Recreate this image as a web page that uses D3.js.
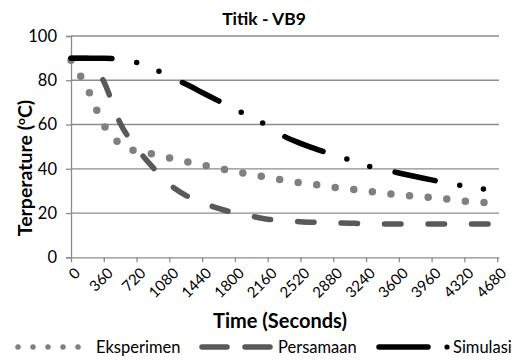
<!DOCTYPE html>
<html>
<head>
<meta charset="utf-8">
<script src="https://cdnjs.cloudflare.com/ajax/libs/d3/7.8.5/d3.min.js"></script>
<style>
  body { margin: 0; background: #fff; }
  svg { display: block; font-family: Lato, "Liberation Sans", sans-serif; }
</style>
</head>
<body>
<div class="chart"></div>
<script>
// time in seconds (every 180 s)
const times = [0, 180, 360, 540, 720, 900, 1080, 1260, 1440, 1620, 1800, 1980, 2160, 2340,
  2520, 2700, 2880, 3060, 3240, 3420, 3600, 3780, 3960, 4140, 4320, 4500, 4680];

const eksperimen = [89, 76.3, 59.8, 51.2, 47.9, 46.6, 44.9, 43.3, 41.8, 40.2, 38.8, 37.4, 36.1, 34.8,
  33.7, 32.8, 31.6, 30.8, 30.0, 29.0, 28.3, 27.6, 27.0, 26.3, 25.4, 24.9, 24.4];

const persamaan = [90, 89.9, 79.4, 60.6, 49.5, 40.6, 33.0, 28.0, 24.6, 22.1, 20.0, 18.6, 17.2, 16.8,
  16.1, 15.8, 15.6, 15.4, 15.2, 15.1, 15.1, 15.0, 15.0, 15.0, 15.0, 15.0, 15.0];

const simulasi = [90, 90, 90, 89.4, 88.0, 85.5, 81.5, 78.3, 74.5, 70.7, 67.0, 63.1, 59.5, 54.7,
  51.5, 48.8, 46.3, 44.0, 41.5, 39.8, 38.1, 36.5, 35.0, 33.4, 32.2, 31.0, 30.0];

const xTicks = d3.range(0, 4681, 360);
const yTicks = [0, 20, 40, 60, 80, 100];

const seriesNames = ["Eksperimen", "Persamaan", "Simulasi"];

const W = 528, H = 363;
const margin = ({top: 36, right: 29, bottom: 105.7, left: 71});
const w = W - margin.left - margin.right,
      h = H - margin.top - margin.bottom;

const svg = d3.select(".chart")
  .append("svg")
  .attr("width", W)
  .attr("height", H);

const g = svg.append("g")
  .attr("transform", `translate(${margin.left},${margin.top})`);

const xScale = d3.scaleLinear().domain([0, 4700]).range([0, w]);
const yScale = d3.scaleLinear().domain([0, 100]).range([h, 0]);

const gridColor = "#8c8c8c";

// gridlines
g.append("g")
  .selectAll("line")
  .data(yTicks.filter(d => d > 0))
  .join("line")
  .attr("x1", 0).attr("x2", w)
  .attr("y1", d => yScale(d)).attr("y2", d => yScale(d))
  .attr("stroke", gridColor)
  .attr("stroke-width", 1.3);

// y axis
const yAxis = d3.axisLeft(yScale).tickValues(yTicks).tickSize(5).tickPadding(9);
const yAxisGroup = g.append("g").call(yAxis);
yAxisGroup.select(".domain").attr("stroke", gridColor).attr("stroke-width", 1.3);
yAxisGroup.selectAll(".tick line").attr("stroke", gridColor).attr("stroke-width", 1.3);
yAxisGroup.selectAll(".tick text")
  .attr("font-family", "Lato, sans-serif")
  .attr("font-size", 16.5)
  .attr("fill", "#000");

// x axis
const xAxis = d3.axisBottom(xScale).tickValues(xTicks).tickSize(5).tickSizeOuter(0)
  .tickFormat(d3.format("d"));
const xAxisGroup = g.append("g")
  .attr("transform", `translate(0,${h})`)
  .call(xAxis);
xAxisGroup.select(".domain").attr("stroke", gridColor).attr("stroke-width", 1.3);
xAxisGroup.selectAll(".tick line").attr("stroke", gridColor).attr("stroke-width", 1.3);
xAxisGroup.selectAll(".tick text")
  .attr("font-family", "Lato, sans-serif")
  .attr("font-size", 15)
  .attr("fill", "#000")
  .attr("text-anchor", "end")
  .attr("y", 0).attr("dy", "0.35em")
  .attr("transform", "translate(6,13) rotate(-45)");

// lines
const line = vals => d3.line()
  .curve(d3.curveMonotoneX)
  .x((d, i) => xScale(times[i]))
  .y(d => yScale(d))(vals);

g.append("path")
  .attr("d", line(eksperimen))
  .attr("fill", "none")
  .attr("stroke", "#808080")
  .attr("stroke-width", 7.5)
  .attr("stroke-linecap", "round")
  .attr("stroke-dasharray", "0,18.7");

g.append("path")
  .attr("d", line(persamaan))
  .attr("fill", "none")
  .attr("stroke", "#595959")
  .attr("stroke-width", 5.5)
  .attr("stroke-linecap", "round")
  .attr("stroke-dasharray", "16.5,27");

g.append("path")
  .attr("d", line(simulasi))
  .attr("fill", "none")
  .attr("stroke", "#000")
  .attr("stroke-width", 5.5)
  .attr("stroke-linecap", "round")
  .attr("stroke-dasharray", "41,25,0,24,0,26");

// title
svg.append("text")
  .attr("x", 264).attr("y", 25)
  .attr("text-anchor", "middle")
  .attr("font-weight", "bold")
  .attr("font-size", 17.5)
  .text("Titik - VB9");

// axis titles
svg.append("text")
  .attr("x", 280).attr("y", 328)
  .attr("text-anchor", "middle")
  .attr("font-weight", "bold")
  .attr("font-size", 20)
  .text("Time (Seconds)");

const yTitle = svg.append("text")
  .attr("transform", "translate(32,168) rotate(-90)")
  .attr("text-anchor", "middle")
  .attr("font-weight", "bold")
  .attr("font-size", 19.5);
yTitle.append("tspan").text("Terperature (");
yTitle.append("tspan").attr("font-size", 12).attr("dy", -7).text("o");
yTitle.append("tspan").attr("dy", 7).text("C)");

// legend
const legY = 347;
const leg = svg.append("g");

leg.append("line")
  .attr("x1", 18).attr("x2", 79).attr("y1", legY).attr("y2", legY)
  .attr("stroke", "#808080").attr("stroke-width", 5.5)
  .attr("stroke-linecap", "round").attr("stroke-dasharray", "0,15");

leg.append("line")
  .attr("x1", 202).attr("x2", 272).attr("y1", legY).attr("y2", legY)
  .attr("stroke", "#595959").attr("stroke-width", 5.5)
  .attr("stroke-linecap", "round").attr("stroke-dasharray", "25,18");

leg.append("line")
  .attr("x1", 379).attr("x2", 428).attr("y1", legY).attr("y2", legY)
  .attr("stroke", "#000").attr("stroke-width", 5.5)
  .attr("stroke-linecap", "round");
leg.append("circle")
  .attr("cx", 447).attr("cy", legY).attr("r", 2.6).attr("fill", "#000");

const legText = [96, 278, 453];
leg.selectAll(".legText")
  .data(seriesNames)
  .join("text")
  .attr("x", (d, i) => legText[i])
  .attr("y", legY + 5.5)
  .attr("font-size", 16.5)
  .text(d => d);
</script>
</body>
</html>
